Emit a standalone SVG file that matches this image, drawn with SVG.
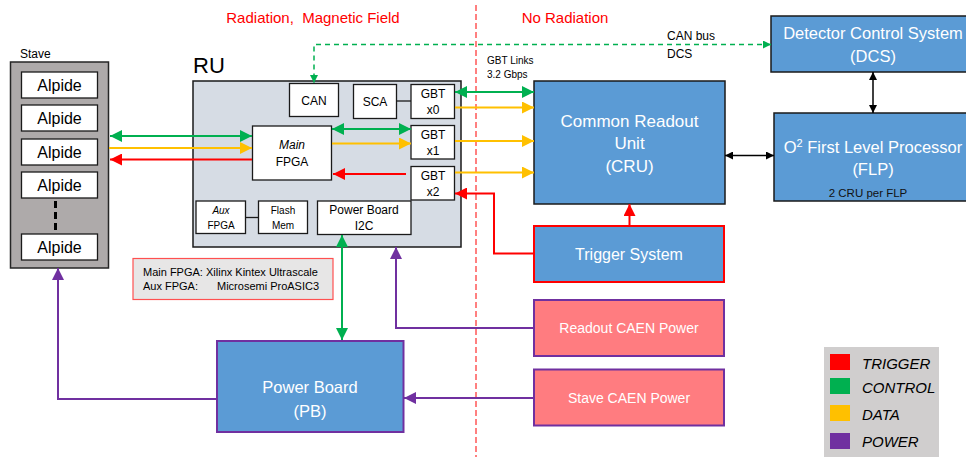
<svg xmlns="http://www.w3.org/2000/svg" width="966" height="457" viewBox="0 0 966 457">
<style>
text{font-family:"Liberation Sans",Arial,sans-serif;fill:#000}
.wb{fill:#fff;stroke:#1a1a1a;stroke-width:1.3}
.blue{fill:#5b9bd5}
.wt{fill:#fff}
.m{text-anchor:middle}
.g{stroke:#00b050;stroke-width:2;fill:none}
.y{stroke:#ffc000;stroke-width:2;fill:none}
.r{stroke:#ff0000;stroke-width:2;fill:none}
.p{stroke:#7030a0;stroke-width:2;fill:none}
.k{stroke:#000;stroke-width:1.5;fill:none}
</style>
<defs>
<marker id="ag" viewBox="0 0 10 10" refX="10" refY="5" markerUnits="userSpaceOnUse" markerWidth="13" markerHeight="12" orient="auto-start-reverse"><path d="M0,0L10,5L0,10z" fill="#00b050"/></marker>
<marker id="ay" viewBox="0 0 10 10" refX="10" refY="5" markerUnits="userSpaceOnUse" markerWidth="13" markerHeight="12" orient="auto-start-reverse"><path d="M0,0L10,5L0,10z" fill="#ffc000"/></marker>
<marker id="ar" viewBox="0 0 10 10" refX="10" refY="5" markerUnits="userSpaceOnUse" markerWidth="13" markerHeight="12" orient="auto-start-reverse"><path d="M0,0L10,5L0,10z" fill="#ff0000"/></marker>
<marker id="ap" viewBox="0 0 10 10" refX="10" refY="5" markerUnits="userSpaceOnUse" markerWidth="13" markerHeight="12" orient="auto-start-reverse"><path d="M0,0L10,5L0,10z" fill="#7030a0"/></marker>
<marker id="ak" viewBox="0 0 10 10" refX="10" refY="5" markerUnits="userSpaceOnUse" markerWidth="8" markerHeight="8" orient="auto-start-reverse"><path d="M0,0L10,5L0,10z" fill="#000"/></marker>
<marker id="agd" viewBox="0 0 10 10" refX="10" refY="5" markerUnits="userSpaceOnUse" markerWidth="9" markerHeight="8" orient="auto-start-reverse"><path d="M0,0L10,5L0,10z" fill="#00b050"/></marker>
</defs>

<!-- region labels -->
<text x="313" y="23" class="m" style="fill:#ff0000;font-size:15px;white-space:pre" xml:space="preserve">Radiation,  Magnetic Field</text>
<text x="565" y="23" class="m" style="fill:#ff0000;font-size:15px">No Radiation</text>
<line x1="476" y1="5" x2="476" y2="457" stroke="#ff0000" stroke-width="1" stroke-dasharray="6,3"/>

<!-- Stave -->
<g id="stave">
<text x="20" y="58" style="font-size:12px">Stave</text>
<rect x="10.5" y="62" width="98" height="206" fill="#aeaaaa" stroke="#262626" stroke-width="1.5"/>
<rect x="21.5" y="72" width="76" height="26" class="wb"/>
<text x="59.5" y="91" class="m" style="font-size:16px">Alpide</text>
<rect x="21.5" y="105" width="76" height="26" class="wb"/>
<text x="59.5" y="124" class="m" style="font-size:16px">Alpide</text>
<rect x="21.5" y="139" width="76" height="26" class="wb"/>
<text x="59.5" y="158" class="m" style="font-size:16px">Alpide</text>
<rect x="21.5" y="172" width="76" height="26" class="wb"/>
<text x="59.5" y="191" class="m" style="font-size:16px">Alpide</text>
<line x1="55.5" y1="201" x2="55.5" y2="230" stroke="#000" stroke-width="3" stroke-dasharray="7,4"/>
<rect x="21.5" y="234" width="76" height="26" class="wb"/>
<text x="59.5" y="253" class="m" style="font-size:16px">Alpide</text>
</g>

<!-- RU -->
<g id="ru">
<text x="193" y="73" style="font-size:22px">RU</text>
<rect x="193" y="81" width="268" height="166" fill="#d6dce4" stroke="#1a1a1a" stroke-width="1.5"/>
</g>
<g id="can">
<rect x="289.5" y="83.5" width="49" height="33" class="wb"/>
<text x="314" y="105" class="m" style="font-size:12px">CAN</text>
</g>
<g id="sca">
<rect x="353.5" y="84.5" width="43" height="34" class="wb"/>
<text x="375" y="106" class="m" style="font-size:12px">SCA</text>
</g>
<g id="gbt0">
<rect x="411" y="84.5" width="43.5" height="34" class="wb"/>
<text x="433" y="98" class="m" style="font-size:12px">GBT</text>
<text x="433" y="114" class="m" style="font-size:12px">x0</text>
</g>
<g id="gbt1">
<rect x="411" y="125.5" width="43.5" height="33.5" class="wb"/>
<text x="433" y="139" class="m" style="font-size:12px">GBT</text>
<text x="433" y="155" class="m" style="font-size:12px">x1</text>
</g>
<g id="gbt2">
<rect x="411" y="166.5" width="43.5" height="33.5" class="wb"/>
<text x="433" y="180" class="m" style="font-size:12px">GBT</text>
<text x="433" y="196" class="m" style="font-size:12px">x2</text>
</g>
<g id="mainfpga">
<rect x="252.5" y="126" width="79" height="54" class="wb"/>
<text x="292" y="149" class="m" style="font-size:12px;font-style:italic">Main</text>
<text x="292" y="166" class="m" style="font-size:12px">FPGA</text>
</g>
<g id="auxfpga">
<rect x="196" y="201" width="49.5" height="32.5" class="wb"/>
<text x="221" y="214" class="m" style="font-size:10px;font-style:italic">Aux</text>
<text x="221" y="229" class="m" style="font-size:10px">FPGA</text>
</g>
<g id="flash">
<rect x="258.5" y="201" width="49" height="32.5" class="wb"/>
<text x="283" y="214" class="m" style="font-size:10px">Flash</text>
<text x="283" y="229" class="m" style="font-size:10px">Mem</text>
</g>
<g id="pbi2c">
<rect x="317.5" y="201" width="93.5" height="33.5" class="wb"/>
<text x="364" y="214" class="m" style="font-size:12px">Power Board</text>
<text x="364" y="230" class="m" style="font-size:12px">I2C</text>
</g>

<!-- note -->
<g id="note">
<rect x="133" y="258.5" width="200" height="41" fill="#e7e6e6" stroke="#ff5050" stroke-width="1.2"/>
<text x="143" y="276" style="font-size:11px">Main FPGA: Xilinx Kintex Ultrascale</text>
<text x="143" y="290" style="font-size:11px">Aux FPGA:</text>
<text x="217" y="290" style="font-size:11px">Microsemi ProASIC3</text>
</g>

<!-- CRU -->
<g id="cru">
<rect x="534" y="81" width="191" height="123" class="blue" stroke="#1a1a1a" stroke-width="1.5"/>
<text x="629.5" y="127" class="m wt" style="font-size:17px">Common Readout</text>
<text x="629.5" y="149" class="m wt" style="font-size:17px">Unit</text>
<text x="629.5" y="172" class="m wt" style="font-size:17px">(CRU)</text>
</g>
<g id="dcs">
<rect x="771" y="16" width="204" height="56" class="blue" stroke="#1a1a1a" stroke-width="1.5"/>
<text x="873" y="39" class="m wt" style="font-size:16.5px">Detector Control System</text>
<text x="873" y="62" class="m wt" style="font-size:16.5px">(DCS)</text>
</g>
<g id="flp">
<rect x="774" y="113" width="201" height="88" class="blue" stroke="#1a1a1a" stroke-width="1.5"/>
<text x="873" y="153" class="m wt" style="font-size:16.5px">O<tspan dy="-6" style="font-size:11px">2</tspan><tspan dy="6"> First Level Processor</tspan></text>
<text x="873" y="175" class="m wt" style="font-size:16.5px">(FLP)</text>
<text x="868" y="197" class="m" style="font-size:11.5px;fill:#111">2 CRU per FLP</text>
</g>
<g id="trigger">
<rect x="534" y="226" width="190" height="56" class="blue" stroke="#ff0000" stroke-width="2"/>
<text x="629" y="260" class="m wt" style="font-size:16px">Trigger System</text>
</g>
<g id="readoutcaen">
<rect x="534" y="300" width="190" height="56" fill="#ff7c80" stroke="#7030a0" stroke-width="2"/>
<text x="629" y="333" class="m wt" style="font-size:14px">Readout CAEN Power</text>
</g>
<g id="stavecaen">
<rect x="534" y="369.5" width="190" height="56" fill="#ff7c80" stroke="#7030a0" stroke-width="2"/>
<text x="629" y="403" class="m wt" style="font-size:14px">Stave CAEN Power</text>
</g>
<g id="pb">
<rect x="217" y="341" width="186.5" height="91" class="blue" stroke="#7030a0" stroke-width="2"/>
<text x="310" y="393" class="m wt" style="font-size:16.5px">Power Board</text>
<text x="310" y="417" class="m wt" style="font-size:16.5px">(PB)</text>
</g>

<!-- labels -->
<text x="487" y="64" style="font-size:10px">GBT Links</text>
<text x="487" y="78" style="font-size:10px">3.2 Gbps</text>
<text x="667" y="40" style="font-size:12px">CAN bus</text>
<text x="667" y="58" style="font-size:12px">DCS</text>

<!-- connectors -->
<g id="connectors">
<line x1="396.5" y1="101" x2="411" y2="101" stroke="#1a1a1a" stroke-width="1.3"/>
<line x1="245.5" y1="217.5" x2="258.5" y2="217.5" stroke="#1a1a1a" stroke-width="1.3"/>
<!-- stave <-> main fpga -->
<line x1="110" y1="136" x2="252" y2="136" class="g" marker-start="url(#ag)" marker-end="url(#ag)"/>
<line x1="109" y1="148" x2="252" y2="148" class="y" marker-end="url(#ay)"/>
<line x1="252" y1="159.5" x2="110" y2="159.5" class="r" marker-end="url(#ar)"/>
<!-- fpga <-> gbt -->
<line x1="332" y1="129" x2="411" y2="129" class="g" marker-start="url(#ag)" marker-end="url(#ag)"/>
<line x1="332" y1="143.5" x2="411" y2="143.5" class="y" marker-end="url(#ay)"/>
<line x1="406" y1="174" x2="333" y2="174" class="r" marker-end="url(#ar)"/>
<!-- gbt <-> cru -->
<line x1="455" y1="92" x2="534" y2="92" class="g" marker-start="url(#ag)" marker-end="url(#ag)"/>
<line x1="455" y1="107.5" x2="534" y2="107.5" class="y" marker-end="url(#ay)"/>
<line x1="455" y1="141" x2="534" y2="141" class="y" marker-end="url(#ay)"/>
<line x1="455" y1="172.5" x2="534" y2="172.5" class="y" marker-end="url(#ay)"/>
<!-- trigger -->
<polyline points="534,253.5 494,253.5 494,193.5 455,193.5" class="r" marker-end="url(#ar)"/>
<line x1="629.5" y1="226" x2="629.5" y2="204" class="r" marker-end="url(#ar)"/>
<!-- power -->
<polyline points="534,328 396,328 396,247" class="p" marker-end="url(#ap)"/>
<line x1="534" y1="398" x2="404" y2="398" class="p" marker-end="url(#ap)"/>
<polyline points="217,399 58,399 58,268" class="p" marker-end="url(#ap)"/>
<!-- pb control -->
<line x1="342" y1="235" x2="342" y2="340" class="g" marker-start="url(#ag)" marker-end="url(#ag)"/>
<!-- can bus -->
<polyline points="771,44.5 314,44.5 314,83" stroke="#00b050" stroke-width="1.5" fill="none" stroke-dasharray="5,4" marker-start="url(#agd)" marker-end="url(#agd)"/>
<!-- black -->
<line x1="725" y1="155.5" x2="774" y2="155.5" class="k" marker-start="url(#ak)" marker-end="url(#ak)"/>
<line x1="873" y1="72" x2="873" y2="113" class="k" marker-start="url(#ak)" marker-end="url(#ak)"/>
</g>

<!-- legend -->
<g id="legend">
<rect x="824" y="347" width="115" height="110" fill="#d0cece"/>
<rect x="830" y="354" width="20" height="16" fill="#ff0000"/>
<rect x="830" y="378" width="20" height="16" fill="#00b050"/>
<rect x="830" y="405" width="20" height="16" fill="#ffc000"/>
<rect x="830" y="433" width="20" height="16" fill="#7030a0"/>
<text x="862" y="369" style="font-size:15px;font-style:italic">TRIGGER</text>
<text x="862" y="393" style="font-size:15px;font-style:italic">CONTROL</text>
<text x="862" y="420" style="font-size:15px;font-style:italic">DATA</text>
<text x="862" y="447" style="font-size:15px;font-style:italic">POWER</text>
</g>
</svg>
